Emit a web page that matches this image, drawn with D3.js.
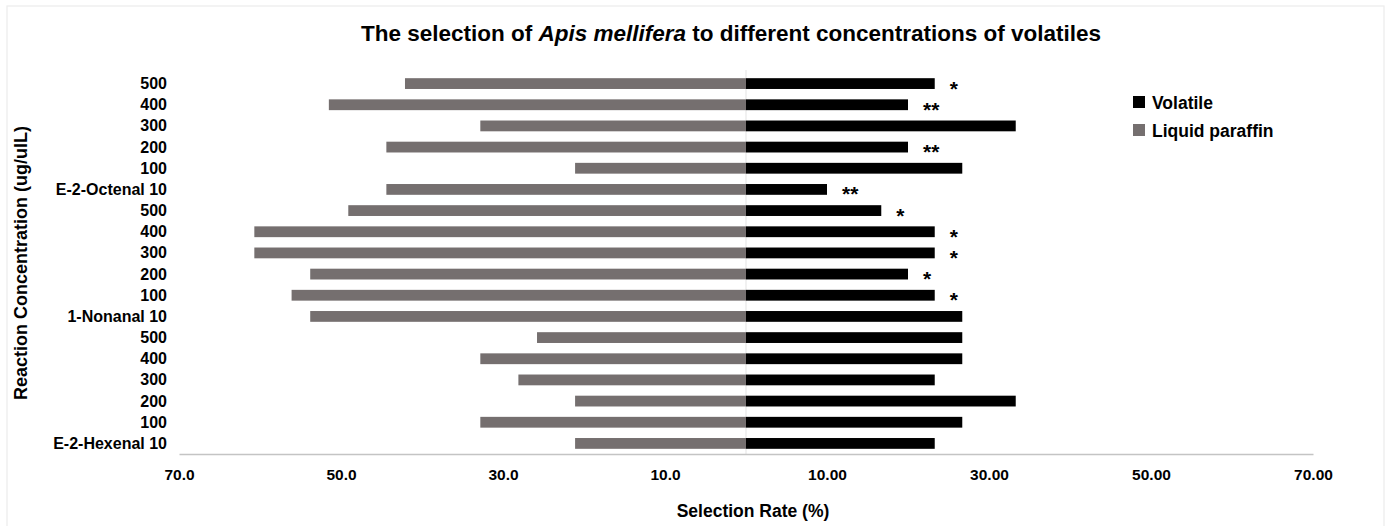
<!DOCTYPE html>
<html>
<head>
<meta charset="utf-8">
<script src="https://cdn.jsdelivr.net/npm/d3@7"></script>
<style>
	body { margin: 0; background: #fff; }
	text { font-family: "Liberation Sans", Arial, sans-serif; font-weight: bold; fill: #000; }
</style>
</head>
<body>
<script>
//rows from top to bottom
var categories = ["500", "400", "300", "200", "100", "E-2-Octenal 10",
	"500", "400", "300", "200", "100", "1-Nonanal 10",
	"500", "400", "300", "200", "100", "E-2-Hexenal 10"];

//selection rate (%) of the volatile arm
var volatile = [23.3, 20.0, 33.3, 20.0, 26.7, 10.0,
	16.7, 23.3, 23.3, 20.0, 23.3, 26.7,
	26.7, 26.7, 23.3, 33.3, 26.7, 23.3];

//selection rate (%) of the liquid paraffin arm (drawn to the left)
var paraffin = [42.1, 51.5, 32.8, 44.4, 21.1, 44.4,
	49.1, 60.7, 60.7, 53.8, 56.1, 53.8,
	25.8, 32.8, 28.1, 21.1, 32.8, 21.1];

//significance marks
var marks = ["*", "**", "", "**", "", "**",
	"*", "*", "*", "*", "*", "",
	"", "", "", "", "", ""];

var xTicks = [-70, -50, -30, -10, 10, 30, 50, 70];

var seriesNames = ["Volatile", "Liquid paraffin"],
	seriesColors = ["#000000", "#756f6f"];

var W = 1389, H = 526;
var svg = d3.select("body").append("svg")
	.attr("width", W)
	.attr("height", H);

//faint frame
svg.append("rect")
	.attr("x", 7).attr("y", 6)
	.attr("width", 1377).attr("height", 540)
	.attr("fill", "none")
	.attr("stroke", "#ececec")
	.attr("stroke-width", 1.2);

var xScale = d3.scaleLinear().domain([-70, 70]).range([179, 1313]);
var yScale = d3.scaleBand()
	.domain(d3.range(categories.length))
	.range([73, 454])
	.paddingInner(0.49)
	.paddingOuter(0.245);

//zero line
svg.append("line")
	.attr("x1", xScale(0)).attr("x2", xScale(0))
	.attr("y1", 70).attr("y2", 454)
	.attr("stroke", "#e3e3e3")
	.attr("stroke-width", 1);

//paraffin bars
svg.append("g").selectAll("rect")
	.data(paraffin).enter()
		.append("rect")
		.attr("x", function(d) { return xScale(-d); })
		.attr("y", function(d, i) { return yScale(i); })
		.attr("width", function(d) { return xScale(0) - xScale(-d); })
		.attr("height", yScale.bandwidth())
		.attr("fill", seriesColors[1]);

//volatile bars
svg.append("g").selectAll("rect")
	.data(volatile).enter()
		.append("rect")
		.attr("x", xScale(0))
		.attr("y", function(d, i) { return yScale(i); })
		.attr("width", function(d) { return xScale(d) - xScale(0); })
		.attr("height", yScale.bandwidth())
		.attr("fill", seriesColors[0]);

//asterisks
svg.append("g").selectAll("text")
	.data(marks).enter()
		.append("text")
		.attr("x", function(d, i) { return xScale(volatile[i]) + 15; })
		.attr("y", function(d, i) { return yScale(i) + yScale.bandwidth() / 2 + 12; })
		.style("font-size", "21px")
		.text(function(d) { return d; });

//x axis
var xAxis = d3.axisBottom(xScale)
	.tickValues(xTicks)
	.tickSize(0)
	.tickPadding(15)
	.tickFormat(function(d) { return d < 0 ? Math.abs(d).toFixed(1) : d.toFixed(2); });
var gx = svg.append("g")
	.attr("transform", "translate(0,454)")
	.call(xAxis);
gx.select(".domain").attr("stroke", "#c4c4c4").attr("stroke-width", 1.5);
gx.selectAll("text").style("font-size", "15.5px").style("font-family", "Liberation Sans, Arial, sans-serif").style("font-weight", "bold").attr("fill", "#000");

//y labels
svg.append("g").selectAll("text")
	.data(categories).enter()
		.append("text")
		.attr("x", 167)
		.attr("y", function(d, i) { return yScale(i) + yScale.bandwidth() / 2 + 5.5; })
		.style("text-anchor", "end")
		.style("font-size", "16px")
		.text(function(d) { return d; });

//title
var title = svg.append("text")
	.attr("x", 731)
	.attr("y", 41)
	.style("text-anchor", "middle")
	.style("font-size", "22.5px");
title.append("tspan").text("The selection of ");
title.append("tspan").style("font-style", "italic").text("Apis mellifera");
title.append("tspan").text(" to different concentrations of volatiles");

//axis titles
svg.append("text")
	.attr("x", 753)
	.attr("y", 517)
	.style("text-anchor", "middle")
	.style("font-size", "17.5px")
	.text("Selection Rate (%)");
svg.append("text")
	.attr("transform", "rotate(-90)")
	.attr("x", -263)
	.attr("y", 27)
	.style("text-anchor", "middle")
	.style("font-size", "18px")
	.text("Reaction Concentration (ug/ulL)");

//legend
var legend = svg.append("g").selectAll("g")
	.data(seriesNames).enter()
		.append("g")
		.attr("transform", function(d, i) { return "translate(1133," + (96 + i * 28) + ")"; });
legend.append("rect")
	.attr("width", 12).attr("height", 12)
	.attr("fill", function(d, i) { return seriesColors[i]; });
legend.append("text")
	.attr("x", 19)
	.attr("y", 12.5)
	.style("font-size", "17.5px")
	.text(function(d) { return d; });
</script>
</body>
</html>
